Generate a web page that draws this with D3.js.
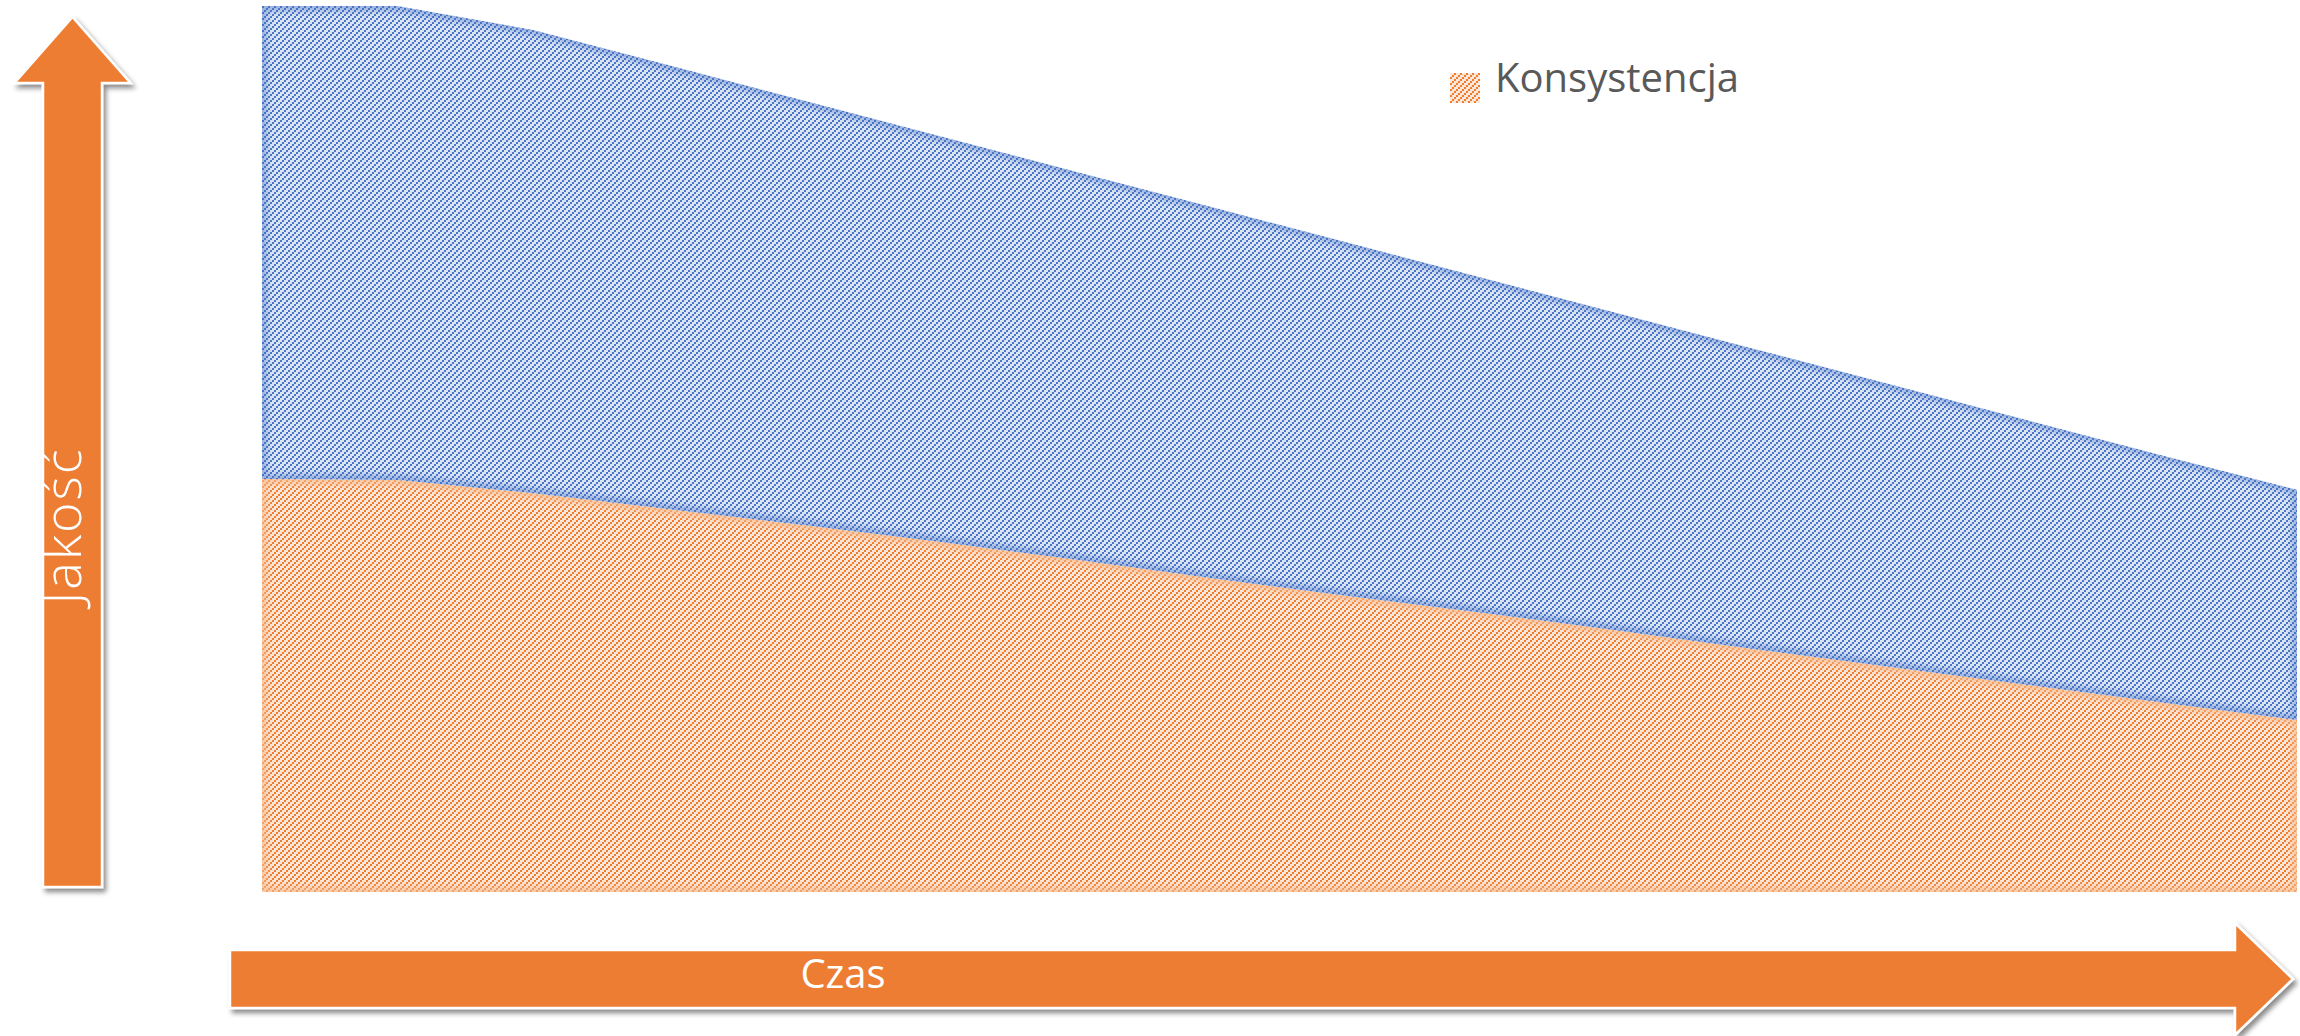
<!DOCTYPE html>
<html>
<head>
<meta charset="utf-8">
<script src="https://d3js.org/d3.v7.min.js"></script>
<style>
  body { margin: 0; background: #fff; }
  svg { display: block; }
</style>
</head>
<body>
<svg id="chart" width="2300" height="1036"></svg>
<script>
// data (values in % of the plot height)
const periods = ["1", "2", "3", "4", "5", "6", "7", "8", "9", "10", "11", "12", "13", "14", "15", "16"];
const konsystencja = [46.6, 46.5, 45.0, 43.2, 41.4, 39.5, 37.5, 35.4, 33.4, 31.5, 29.5, 27.4, 25.4, 23.4, 21.4, 19.4];
const reszta = [53.4, 53.5, 52.3, 50.1, 47.9, 45.8, 43.8, 41.9, 39.9, 37.8, 35.8, 33.9, 31.9, 29.9, 27.9, 26.0];
const seriesNames = ["Konsystencja", "Reszta"];
const legendLabels = ["Konsystencja"];
const xLabel = "Czas";
const yLabel = "Jakość";

const colors = {
    Konsystencja: { dark: "#ef7d30", light: "#fce6d7", glow: "#f6b889" },
    Reszta: { dark: "#4a76c6", light: "#dbe4f4", glow: "#4472c4" }
};
const arrowFill = "#ed7d31";

const plot = { l: 262, r: 2297, t: 6, b: 892 };

const svg = d3.select("#chart");
const defs = svg.append("defs");

// hatch patterns: stair-stepped diagonal of 2px squares
Object.keys(colors).forEach(name => {
    const p = defs.append("pattern")
        .attr("id", `hatch-${name}`)
        .attr("patternUnits", "userSpaceOnUse")
        .attr("width", 6).attr("height", 6);
    p.append("rect").attr("width", 6).attr("height", 6).attr("fill", colors[name].light);
    [[0, 4], [2, 2], [4, 0]].forEach(([a, b]) => {
        p.append("rect").attr("x", a).attr("y", b).attr("width", 2).attr("height", 2)
            .attr("fill", colors[name].dark).attr("shape-rendering", "crispEdges");
    });
});

defs.append("filter").attr("id", "soft")
    .attr("x", "-5%").attr("y", "-5%").attr("width", "110%").attr("height", "110%")
    .append("feGaussianBlur").attr("stdDeviation", 3);

const shadow = defs.append("filter").attr("id", "shadow")
    .attr("x", "-20%").attr("y", "-20%").attr("width", "140%").attr("height", "140%");
shadow.append("feDropShadow")
    .attr("dx", 3).attr("dy", 4).attr("stdDeviation", 2.5)
    .attr("flood-color", "#000").attr("flood-opacity", 0.45);

// scales
const x = d3.scalePoint().domain(periods).range([plot.l, plot.r]);
const y = d3.scaleLinear().domain([0, 100]).range([plot.b, plot.t]);

const rows = periods.map((p, i) => ({ period: p, Konsystencja: konsystencja[i], Reszta: reszta[i] }));
const stacked = d3.stack().keys(seriesNames)(rows);

const area = d3.area()
    .x(d => x(d.data.period))
    .y0(d => y(d[0]))
    .y1(d => y(d[1]));

const areas = svg.append("g").attr("class", "areas");
stacked.forEach(s => {
    const clipId = `clip-${s.key}`;
    defs.append("clipPath").attr("id", clipId).append("path").attr("d", area(s));
    const g = areas.append("g").attr("clip-path", `url(#${clipId})`);
    g.append("path")
        .attr("d", area(s))
        .attr("fill", `url(#hatch-${s.key})`);
    // soft inner edge
    g.append("path")
        .attr("d", area(s))
        .attr("fill", "none")
        .attr("stroke", colors[s.key].glow)
        .attr("stroke-width", 10)
        .attr("stroke-opacity", s.key === "Reszta" ? 0.45 : 0.7)
        .attr("filter", "url(#soft)");
});

// legend
const legend = svg.append("g").attr("transform", "translate(1450,73)");
legendLabels.forEach((label, i) => {
    legend.append("rect")
        .attr("x", 0).attr("y", i * 50)
        .attr("width", 30).attr("height", 30)
        .attr("fill", `url(#hatch-${label})`);
    legend.append("text")
        .attr("x", 45).attr("y", i * 50 + 19)
        .attr("font-family", "'Open Sans', 'Noto Sans', sans-serif")
        .attr("font-size", 40)
        .attr("fill", "#595959")
        .text(label);
});

// vertical arrow (Jakość)
const vA = { cx: 72.5, half: 29.5, tip: 17, headBase: 83, headHalf: 58, bottom: 887 };
svg.append("path")
    .attr("d", `M${vA.cx - vA.half},${vA.bottom} L${vA.cx - vA.half},${vA.headBase} L${vA.cx - vA.headHalf},${vA.headBase}
                L${vA.cx},${vA.tip} L${vA.cx + vA.headHalf},${vA.headBase} L${vA.cx + vA.half},${vA.headBase}
                L${vA.cx + vA.half},${vA.bottom} Z`)
    .attr("fill", arrowFill)
    .attr("stroke", "#fff").attr("stroke-width", 2.5)
    .attr("filter", "url(#shadow)");

svg.append("text")
    .attr("transform", `translate(81,526) rotate(-90)`)
    .attr("text-anchor", "middle")
    .attr("font-family", "'Open Sans', 'Noto Sans', sans-serif")
    .attr("font-weight", 300)
    .attr("font-size", 52)
    .attr("letter-spacing", 2)
    .attr("fill", "#fff")
    .text(yLabel);

// horizontal arrow (Czas)
const hA = { cy: 979, half: 29, left: 230, headBase: 2235, headHalf: 56, tip: 2293 };
svg.append("path")
    .attr("d", `M${hA.left},${hA.cy - hA.half} L${hA.headBase},${hA.cy - hA.half} L${hA.headBase},${hA.cy - hA.headHalf}
                L${hA.tip},${hA.cy} L${hA.headBase},${hA.cy + hA.headHalf} L${hA.headBase},${hA.cy + hA.half}
                L${hA.left},${hA.cy + hA.half} Z`)
    .attr("fill", arrowFill)
    .attr("stroke", "#fff").attr("stroke-width", 2.5)
    .attr("filter", "url(#shadow)");

svg.append("text")
    .attr("x", 843).attr("y", 988)
    .attr("text-anchor", "middle")
    .attr("font-family", "'Open Sans', 'Noto Sans', sans-serif")
    .attr("font-size", 40)
    .attr("fill", "#fff")
    .text(xLabel);
</script>
</body>
</html>
